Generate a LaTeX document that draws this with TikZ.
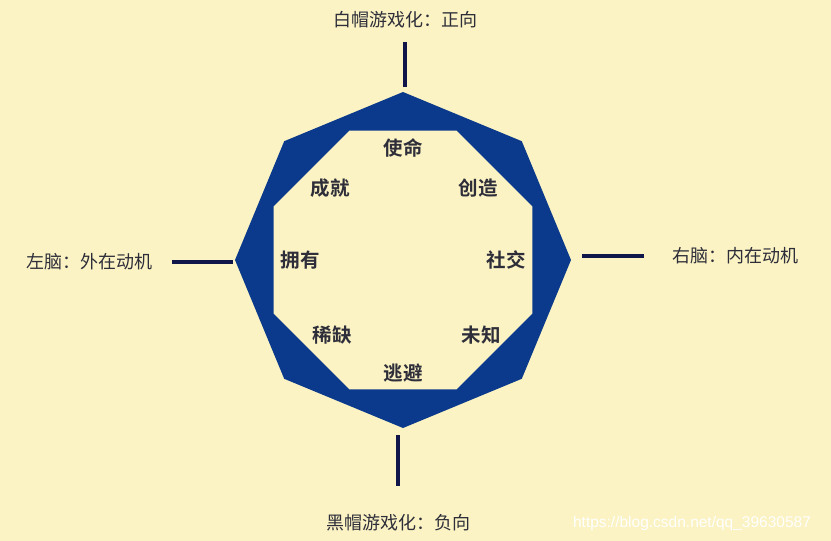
\documentclass[tikz,border=0pt]{standalone}
\usepackage{fontspec}
\usetikzlibrary{shapes.geometric}

\newfontfamily\cjk{Noto Sans CJK SC}[BoldFont={Noto Sans CJK SC Bold}]
\newfontfamily\urlfont{Liberation Sans}

\definecolor{paper}{HTML}{FBF3C3}
\definecolor{hatblue}{HTML}{0B3A8C}
\definecolor{spokenavy}{HTML}{10154A}
\definecolor{inkgray}{HTML}{2E2E3A}

\begin{document}
\begin{tikzpicture}[
    x=1pt, y=-1pt,
    ring/.style={regular polygon, regular polygon sides=8, inner sep=0pt, outer sep=0pt},
    spoke/.style={draw=spokenavy, line width=3.5pt},
    side/.style={text=inkgray, font=\cjk\fontsize{18}{20}\selectfont},
    motive/.style={text=inkgray, font=\cjk\bfseries\fontsize{19.5}{22}\selectfont}
]

    % Background
    \fill[paper] (0,0) rectangle (831,541);
    \useasboundingbox (0,0) rectangle (831,541);

    % Octagons
    \node[ring, minimum size=336pt, shape border rotate=22.5, fill=hatblue] (outer) at (403,260) {};
    \node[ring, minimum size=280pt, fill=paper] (inner) at (403,260) {};

    % Axis labels
    \node[side] (whitehat) at (405,20) {白帽游戏化：正向};
    \node[side] (blackhat) at (398,523) {黑帽游戏化：负向};
    \node[side] (leftbrain) at (90,262) {左脑：外在动机};
    \node[side] (rightbrain) at (735,256) {右脑：内在动机};

    % Axis lines
    \draw[spoke, shorten <=10pt, shorten >=173pt] (whitehat) -- (whitehat |- outer);
    \draw[spoke, shorten <=25pt, shorten >=175pt] (blackhat) -- (blackhat |- outer);
    \draw[spoke, shorten <=15pt, shorten >=170pt] (leftbrain) -- (leftbrain -| outer);
    \draw[spoke, shorten <=24pt, shorten >=179pt] (rightbrain) -- (rightbrain -| outer);

    % Core drives
    \node[motive] (mission) at (403,148) {使命};
    \node[motive] (create) at (478,188) {创造};
    \node[motive] (social) at (506,260) {社交};
    \node[motive] (unknown) at (481,335) {未知};
    \node[motive] (avoid) at (403,373) {逃避};
    \node[motive] (scarce) at (332,335) {稀缺};
    \node[motive] (own) at (300,260) {拥有};
    \node[motive] (achieve) at (330,188) {成就};

    % Watermark
    \node[text=white, font=\urlfont\fontsize{15.5}{18}\selectfont] (mark) at (692,523) {https://blog.csdn.net/qq\_39630587};

\end{tikzpicture}
\end{document}
